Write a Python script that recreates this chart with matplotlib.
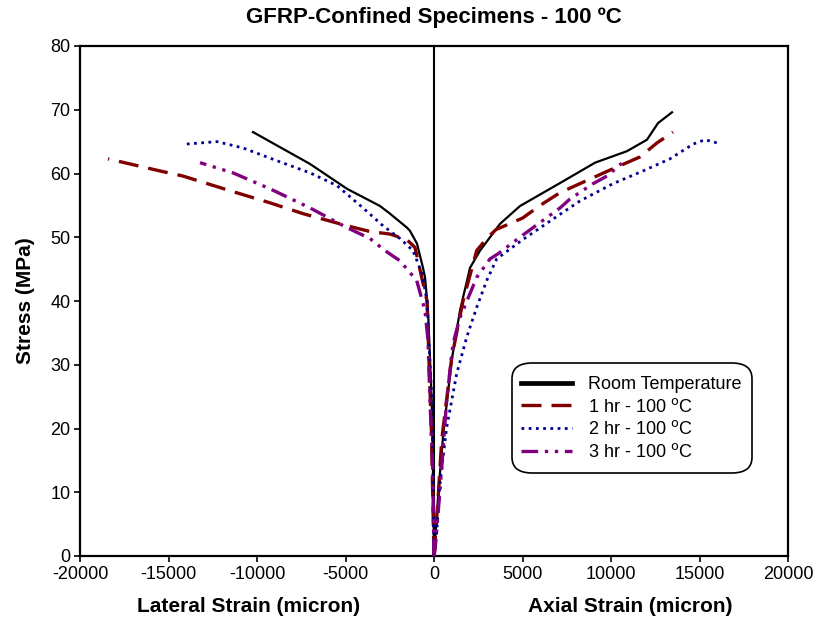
import matplotlib.pyplot as plt
from matplotlib.patches import FancyBboxPatch
from matplotlib.lines import Line2D

plt.rcParams["font.family"] = ["Liberation Sans", "DejaVu Sans"]
plt.rcParams["axes.unicode_minus"] = False

# Room temperature
rt_lat_x = [0, -30, -130, -339, -508, -621, -960, -1356, -1525, -2486, -3050, -4915, -7006, -10226]
rt_lat_y = [0, 8.8, 24.4, 38.5, 43.7, 45.2, 49.0, 51.0, 51.5, 53.7, 54.9, 57.6, 61.5, 66.5]
rt_ax_x = [0, 243, 525, 1000, 1469, 2034, 2600, 3729, 4860, 7120, 9100, 10900, 12034, 12655, 13446]
rt_ax_y = [0, 9.9, 19.2, 30.7, 38.5, 45.2, 47.9, 52.1, 54.9, 58.5, 61.7, 63.5, 65.3, 67.9, 69.6]

# 1 hr - 100 C
h1_lat_x = [0, -60, -150, -300, -395, -800, -1073, -1525, -2486, -3616, -4915, -7400, -9266, -11525, -14180, -15480, -18418]
h1_lat_y = [0, 8.0, 20.0, 32.0, 40.0, 45.0, 48.4, 49.6, 50.5, 50.9, 51.8, 53.7, 55.4, 57.3, 59.6, 60.4, 62.3]
h1_ax_x = [0, 226, 435, 1000, 1638, 2412, 2977, 3500, 5000, 6000, 7120, 8079, 9830, 11638, 12600, 13503]
h1_ax_y = [0, 8.8, 18.2, 31.1, 40.0, 47.9, 49.8, 51.2, 53.0, 55.0, 57.0, 58.2, 60.4, 62.6, 64.8, 66.5]

# 2 hr - 100 C
h2_lat_x = [0, -56, -113, -282, -395, -678, -1186, -1920, -2880, -4011, -5480, -7006, -8870, -10790, -12260, -14068]
h2_lat_y = [0, 8.8, 24.4, 33.3, 40.0, 44.3, 47.9, 49.8, 51.8, 54.6, 58.1, 60.1, 62.0, 64.0, 65.0, 64.6]
h2_ax_x = [0, 150, 339, 717, 1282, 1846, 2412, 2977, 3540, 5000, 7230, 8250, 10110, 11808, 13333, 14630, 15310, 15990]
h2_ax_y = [0, 3.6, 11.4, 20.2, 28.6, 34.3, 39.0, 43.2, 46.6, 49.6, 53.8, 55.7, 58.4, 60.4, 62.3, 64.6, 65.3, 64.8]

# 3 hr - 100 C
h3_lat_x = [0, -75, -226, -339, -508, -977, -1920, -2768, -3616, -4915, -7006, -9266, -11356, -13220]
h3_lat_y = [0, 13.9, 24.4, 33.8, 38.5, 43.2, 46.3, 47.9, 49.8, 51.5, 54.6, 57.6, 60.1, 61.7]
h3_ax_x = [0, 56, 339, 717, 1073, 1469, 2412, 3164, 3616, 5000, 7120, 7684, 8983, 9774, 10600]
h3_ax_y = [0, 0.9, 10.3, 24.4, 33.3, 37.4, 43.7, 46.6, 47.4, 50.3, 54.6, 56.0, 58.4, 59.6, 61.6]

labels = ["Room Temperature", "1 hr - 100 $^{\\rm o}$C", "2 hr - 100 $^{\\rm o}$C", "3 hr - 100 $^{\\rm o}$C"]

styles = [
    dict(color="black", lw=1.6, ls="-"),
    dict(color="#800000", lw=2.4, ls=(0, (6, 3))),
    dict(color="#000090", lw=2.0, ls=(0, (1, 1.6))),
    dict(color="#800080", lw=2.4, ls=(0, (5, 2, 1, 2, 1, 2))),
]
series = [
    (rt_lat_x, rt_lat_y, rt_ax_x, rt_ax_y),
    (h1_lat_x, h1_lat_y, h1_ax_x, h1_ax_y),
    (h2_lat_x, h2_lat_y, h2_ax_x, h2_ax_y),
    (h3_lat_x, h3_lat_y, h3_ax_x, h3_ax_y),
]

fig = plt.figure(figsize=(8.13, 6.19), dpi=100)
ax = fig.add_axes([80 / 813, 63 / 619, 708 / 813, 510 / 619])

ax.axvline(0, color="black", lw=1.5, zorder=1)
for (lx, ly, axx, axy), st in zip(series, styles):
    ax.plot(lx, ly, zorder=3, **st)
    ax.plot(axx, axy, zorder=3, **st)

ax.set_xlim(-20000, 20000)
ax.set_ylim(0, 80)
ax.set_xticks(range(-20000, 20001, 5000))
ax.set_yticks(range(0, 81, 10))
ax.tick_params(labelsize=13, direction="out", length=4, width=1.2, color="black", pad=3)
for s in ax.spines.values():
    s.set_linewidth(1.6)

fig.text(434 / 813, 1 - 18 / 619, "GFRP-Confined Specimens - 100 ºC",
         ha="center", va="center", fontsize=16, fontweight="bold")
ax.set_ylabel("Stress (MPa)", fontsize=15, fontweight="bold", labelpad=11)
fig.text(249 / 813, 1 - 606 / 619, "Lateral Strain (micron)",
         ha="center", va="center", fontsize=15, fontweight="bold")
fig.text(630 / 813, 1 - 606 / 619, "Axial Strain (micron)",
         ha="center", va="center", fontsize=15, fontweight="bold")

# legend with rounded frame
box = FancyBboxPatch((512 / 813, 1 - 473 / 619), 240 / 813, 110 / 619,
                     boxstyle="round,pad=0,rounding_size=0.025",
                     transform=fig.transFigure, facecolor="white",
                     edgecolor="black", lw=1.2, zorder=5)
fig.patches.append(box)
handles = []
for st in styles:
    h = Line2D([], [], **st)
    handles.append(h)
handles[0].set_linewidth(3.4)
leg = fig.legend(handles, labels, loc="upper left",
                 bbox_to_anchor=(521 / 813, 1 - 376 / 619),
                 frameon=False, fontsize=13, handlelength=2.8,
                 labelspacing=0.26, handletextpad=0.9, borderpad=0,
                 borderaxespad=0)
leg.set_zorder(6)

fig.savefig("out.png", dpi=100)
